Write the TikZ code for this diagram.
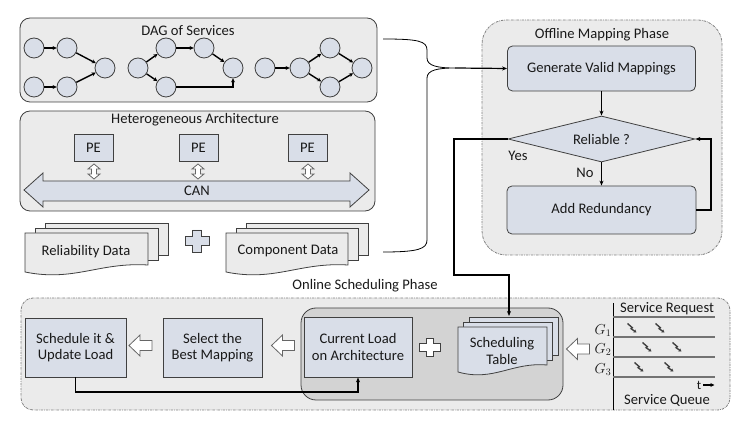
\documentclass[tikz,border=0pt]{standalone}
\usepackage{fontspec}
\setmainfont{Carlito}
\usetikzlibrary{shapes.geometric,arrows.meta}
\definecolor{nfill}{RGB}{217,222,232}
\definecolor{bfill}{RGB}{235,235,235}
\definecolor{ifill}{RGB}{211,211,211}
\definecolor{bord}{RGB}{64,64,64}
\definecolor{txt}{RGB}{25,25,25}
\newcommand\mydocs[7]{%
  \foreach \k in {2,1} {
    \draw[docline, fill=#7] ({#1+\k*#5},{#2-\k*#6}) rectangle ({#3+\k*#5},{#4-\k*#6});
  }
  \draw[docline, fill=#7] (#1,#2) -- (#3,#2) -- (#3,#4) .. controls ({#3-0.4*(#3-#1)},{#4-3}) and ({#1+0.4*(#3-#1)},{#4+17}) .. (#1,{#4+7}) -- cycle;
}
\newcommand\myplus[4]{% cx, cy, scale, fill
  \draw[docline, fill=#4, shift={(#1,#2)}, scale=#3] (-4.5,-11) -- (4.5,-11) -- (4.5,-4.5) -- (12,-4.5) -- (12,4.5) -- (4.5,4.5) -- (4.5,11) -- (-4.5,11) -- (-4.5,4.5) -- (-12,4.5) -- (-12,-4.5) -- (-4.5,-4.5) -- cycle;
}
\newcommand\leftarr[2]{%
  \draw[hollow, shift={(#1,#2)}] (-11.5,0) -- (-0.5,-10.5) -- (-0.5,-5) -- (11.5,-5) -- (11.5,5) -- (-0.5,5) -- (-0.5,10.5) -- cycle;
}
\newcommand\updown[2]{%
  \draw[hollow, shift={(#1,#2)}] (0,-7.5) -- (6,-2.5) -- (2.5,-2.5) -- (2.5,2.5) -- (6,2.5) -- (0,7.5) -- (-6,2.5) -- (-2.5,2.5) -- (-2.5,-2.5) -- (-6,-2.5) -- cycle;
}
\newcommand\bolt[2]{%
  \draw[boltline, shift={(#1,#2)}] (-4.5,-4.5) -- (0.3,-0.3) -- (-0.9,0.7) -- (4.5,4.5);
}
\begin{document}
\begin{tikzpicture}[x=1pt,y=-1pt, font=\fontsize{14.6}{16.5}\selectfont, text=txt,
  panel/.style={draw=bord, fill=bfill, line width=0.8pt, rounded corners=10pt},
  phase/.style={draw=gray, fill=bfill, line width=0.8pt, dash pattern=on 2.5pt off 1pt on 0.7pt off 1pt},
  circ/.style={circle, draw=bord, fill=nfill, line width=0.8pt, minimum size=20pt, inner sep=0pt},
  dagedge/.style={line width=1.4pt, -{Stealth[length=4pt,width=4pt]}},
  flowbox/.style={draw=bord, fill=nfill, line width=0.8pt, align=center, inner sep=0pt},
  conn/.style={line width=1.2pt, -{Stealth[length=5pt,width=4pt]}},
  docline/.style={draw=bord, line width=0.8pt},
  hollow/.style={draw=gray!80!black, fill=white, line width=0.8pt},
  boltline/.style={draw=black!75, line width=1.4pt, -{Stealth[length=3pt,width=3.5pt]}},
  qline/.style={draw=black!55, line width=1.2pt},
  brace/.style={draw=black, line width=0.8pt}
]
\useasboundingbox (0,0) rectangle (745,430);

% ---------- DAG of Services ----------
\draw[panel] (20,18) rectangle (377,102);
\node (dagt) at (188,31) {DAG of Services};
\node[circ] (a1) at (34,48) {};
\node[circ] (a2) at (67,48) {};
\node[circ] (a5) at (105,68) {};
\node[circ] (a3) at (34,87) {};
\node[circ] (a4) at (67,87) {};
\draw[dagedge] (a1) -- (a2);
\draw[dagedge] (a2) -- (a5);
\draw[dagedge] (a3) -- (a4);
\draw[dagedge] (a4) -- (a5);
\node[circ] (b1) at (138,68) {};
\node[circ] (b2) at (166,48) {};
\node[circ] (b3) at (204,48) {};
\node[circ] (b4) at (233,68) {};
\node[circ] (b5) at (166,87) {};
\draw[dagedge] (b1) -- (b2);
\draw[dagedge] (b1) -- (b5);
\draw[dagedge] (b2) -- (b3);
\draw[dagedge] (b3) -- (b4);
\draw[dagedge] (b5) -| (b4);
\node[circ] (c1) at (265,68) {};
\node[circ] (c2) at (300,68) {};
\node[circ] (c3) at (330,48) {};
\node[circ] (c4) at (330,87) {};
\node[circ] (c5) at (362,68) {};
\draw[dagedge] (c1) -- (c2);
\draw[dagedge] (c2) -- (c3);
\draw[dagedge] (c2) -- (c4);
\draw[dagedge] (c3) -- (c5);
\draw[dagedge] (c4) -- (c5);

% ---------- Heterogeneous Architecture ----------
\draw[panel] (20,111) rectangle (375,211);
\node (hat) at (195,120) {Heterogeneous Architecture};
\node[flowbox, minimum width=39pt, minimum height=27pt] (pe1) at (93.5,147.5) {PE};
\node[flowbox, minimum width=39pt, minimum height=27pt] (pe2) at (198.5,147.5) {PE};
\node[flowbox, minimum width=39pt, minimum height=27pt] (pe3) at (307.5,147.5) {PE};
\updown{94}{171.5}
\updown{198}{171.5}
\updown{308}{171.5}
\draw[docline, fill=nfill] (24,190) -- (43,173) -- (43,181) -- (350,181) -- (350,173) -- (369,190) -- (350,207) -- (350,201) -- (43,201) -- (43,207) -- cycle;
\node (can) at (197,191) {CAN};

% ---------- Data ----------
\mydocs{25}{233}{148}{265}{10}{5}{bfill}
\node (reld) at (86,252) {Reliability Data};
\myplus{197}{241}{1}{nfill}
\mydocs{226}{233}{348}{265}{10}{5}{bfill}
\node (compd) at (288,251) {Component Data};

% ---------- Offline Mapping Phase ----------
\draw[phase, rounded corners=24pt] (482,20) rectangle (722,255);
\node (offt) at (602,35) {Offline Mapping Phase};
\node[flowbox, rounded corners=5pt, minimum width=188pt, minimum height=45pt] (gen) at (601.5,68.5) {Generate Valid Mappings};
\node[diamond, aspect=4, draw=bord, fill=nfill, line width=0.8pt, minimum width=187pt, minimum height=46pt, inner sep=0pt] (rel) at (601.5,139) {Reliable ?};
\node[flowbox, rounded corners=5pt, minimum width=189pt, minimum height=48pt] (add) at (601.5,210) {Add Redundancy};
\draw[conn] (gen.south) -- (rel.north);
\draw[conn] (rel.south) -- (add.north);
\draw[conn] (add.east) -- (711,210) |- (rel.east);
\node (yes) at (518,156) {Yes};
\node (no) at (585,173) {No};

% brace
\coordinate (tip) at (455,68);
\draw[brace] (383,39) .. controls (418,39) and (427,41) .. (427,50) -- (427,58) .. controls (427,66) and (438,68) .. (tip)
  .. controls (438,68) and (427,70) .. (427,78) -- (427,240) .. controls (427,249) and (418,252) .. (383,252);
\draw[conn] (tip) -- (gen.west);

% ---------- Online Scheduling Phase ----------
\draw[phase, rounded corners=12pt] (21,298) rectangle (730,410);
\node (ont) at (365,286) {Online Scheduling Phase};
\draw[draw=bord, fill=ifill, line width=0.8pt, rounded corners=15pt] (301,308) rectangle (563,400);
\node[flowbox, minimum width=101pt, minimum height=59pt] (sched) at (75.5,347.5) {Schedule it \&\\Update Load};
\node[flowbox, minimum width=99pt, minimum height=59pt] (sel) at (212.5,347.5) {Select the\\Best Mapping};
\node[flowbox, minimum width=108pt, minimum height=60pt] (cur) at (358,347) {Current Load\\on Architecture};
\leftarr{140.5}{345.5}
\leftarr{283}{345.5}
\leftarr{578}{349}
\myplus{430}{347.5}{0.85}{white}
\mydocs{458}{327}{547}{365}{5.5}{5}{nfill}
\node[align=center] (tab) at (502,351) {Scheduling\\Table};
\coordinate (tabtop) at (509,316);
\draw[conn] (rel.west) -- (454,139) -- (454,275) -- (509,275) -- (tabtop);
\draw[conn] (sched.south) -- (75.5,392) -| (cur.south);

% ---------- Service queue ----------
\draw[line width=0.8pt] (613,303) -- (613,410);
\draw[qline] (613,317) -- (715,317);
\draw[qline] (613,337) -- (715,337);
\draw[qline] (613,357) -- (715,357);
\draw[qline] (613,377) -- (715,377);
\node (sreq) at (667,309) {Service Request};
\node (g1) at (603,331) {$G_1$};
\node (g2) at (603,350) {$G_2$};
\node (g3) at (603,370) {$G_3$};
\bolt{632}{328}
\bolt{660}{328}
\bolt{647}{347}
\bolt{677}{347}
\bolt{639}{367}
\bolt{669}{367}
\node[inner sep=0pt, font=\fontsize{13}{14}\selectfont] (tl) at (699,385) {t};
\draw[line width=1.1pt, -{Stealth[length=4pt,width=4pt]}] (tl.east) ++(2,0) -- ++(11,0);
\node[inner sep=0pt] (squ) at (667,400.5) {Service Queue};
\end{tikzpicture}
\end{document}
